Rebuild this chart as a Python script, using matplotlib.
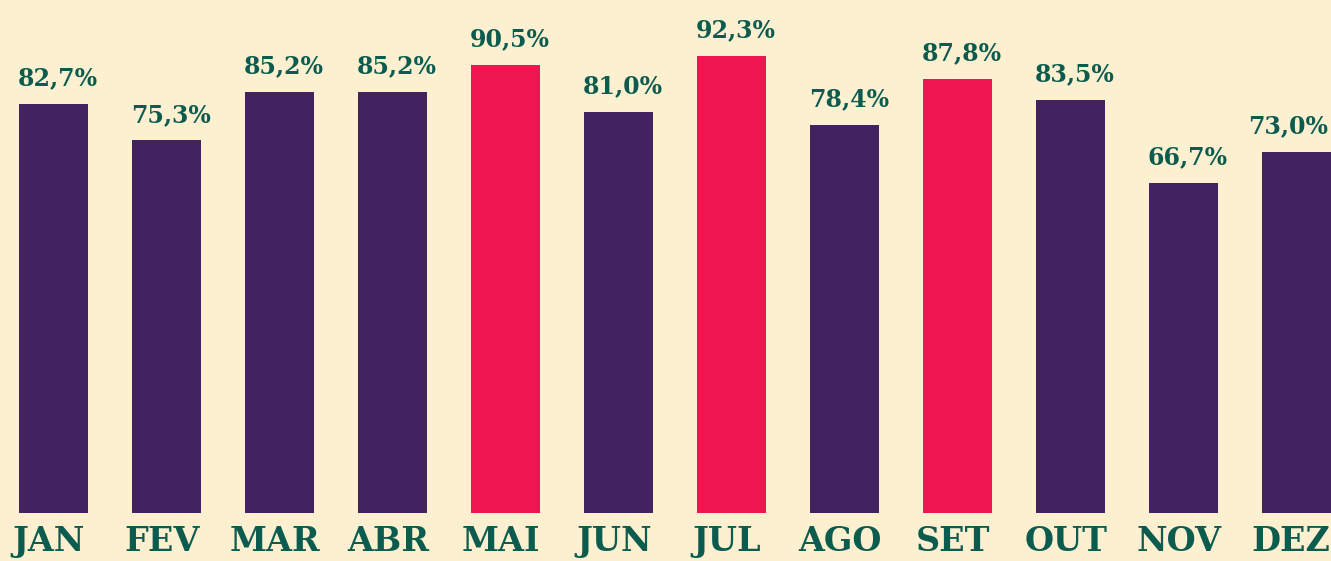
import matplotlib
matplotlib.use("Agg")
import matplotlib.pyplot as plt
import numpy as np

# monthly values (%)
months = ["JAN", "FEV", "MAR", "ABR", "MAI", "JUN", "JUL", "AGO", "SET", "OUT", "NOV", "DEZ"]
values = [82.7, 75.3, 85.2, 85.2, 90.5, 81.0, 92.3, 78.4, 87.8, 83.5, 66.7, 73.0]
highlight = ["MAI", "JUL", "SET"]

bg = "#fdf0d0"
purple = "#42235f"
red = "#ed1651"
green = "#0b5c4f"
fam = ["DejaVu Serif Condensed", "DejaVu Serif"]

fig = plt.figure(figsize=(13.31, 5.61), dpi=100, facecolor=bg)
ax = fig.add_axes([0, 0, 1, 1])
ax.set_facecolor(bg)

x = np.arange(len(months))
colors = [red if m in highlight else purple for m in months]
ax.bar(x, values, width=0.61, color=colors)

# value labels above bars (last one nudged left so it stays inside)
for xi, v in zip(x, values):
    label = f"{v:.1f}%".replace(".", ",")
    dx = 0.04 if xi < len(months) - 1 else -0.07
    ax.text(xi + dx, v + 3.8, label, ha="center", va="baseline",
            fontsize=17, fontweight="bold", color=green, family=fam)

# month labels at bottom
for xi, m in zip(x, months):
    dx = -0.04 if xi < len(months) - 1 else -0.05
    ax.text(xi + dx, -7.7, m, ha="center", va="baseline",
            fontsize=24, fontweight="bold", color=green, family=fam)

ax.set_xlim(-0.473, 11.305)
ax.set_ylim(-9.7, 103.7)
ax.axis("off")

fig.savefig("out.png", dpi=100, facecolor=bg)
